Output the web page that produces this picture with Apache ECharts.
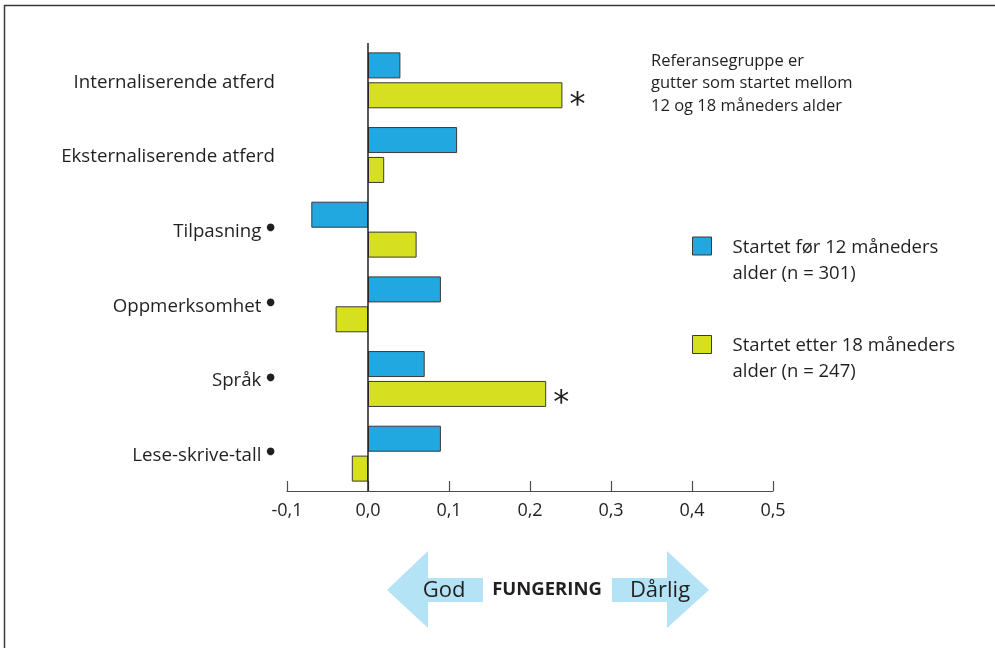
<!DOCTYPE html>
<html><head><meta charset="utf-8">
<script src="https://cdn.jsdelivr.net/npm/echarts@6/dist/echarts.min.js"></script>
<style>html,body{margin:0;padding:0;background:#fff}#c{width:995px;height:648px}</style>
</head><body><div id="c"></div>
<script>
var categories = ['Internaliserende atferd','Eksternaliserende atferd','Tilpasning','Oppmerksomhet','Språk','Lese-skrive-tall'];
var bulletMarked = [false, false, true, true, true, true];
var seriesNames = ['Startet før 12 måneders\nalder (n = 301)', 'Startet etter 18 måneders\nalder (n = 247)'];
var before12 = [0.04, 0.11, -0.07, 0.09, 0.07, 0.09];
var after18 = [0.24, 0.02, 0.06, -0.04, 0.22, -0.02];
var after18Significant = [true, false, false, false, true, false];
var xTicks = [-0.1, 0.0, 0.1, 0.2, 0.3, 0.4, 0.5];
var noteLines = ['Referansegruppe er', 'gutter som startet mellom', '12 og 18 måneders alder'];

var FONT = 'Open Sans';
var chart = echarts.init(document.getElementById('c'), null, {renderer: 'canvas'});

var yellowData = after18.map(function (v, i) {
  return after18Significant[i]
    ? {value: v, label: {show: true, position: 'right', distance: 7, formatter: '*', fontSize: 32, fontFamily: 'DejaVu Sans', color: '#231f20', offset: [0, 10]}}
    : v;
});

chart.setOption({
  animation: false,
  textStyle: {fontFamily: FONT},
  grid: {left: 287, right: 222, top: 43, bottom: 157},
  title: {
    text: noteLines.join('\n'), left: 651, top: 50, padding: 0,
    textStyle: {fontFamily: FONT, fontSize: 16.5, fontWeight: 'normal', color: '#231f20', lineHeight: 22.5}
  },
  legend: {
    orient: 'vertical', left: 692, top: 219.5, itemWidth: 19, itemHeight: 18, itemGap: 35,
    padding: 0, icon: 'rect',
    itemStyle: {borderColor: '#3a3a3a', borderWidth: 1},
    formatter: function (name) {
      var parts = name.split('\n');
      return '{s| }\n{t|' + parts[0] + '}\n{t|' + parts[1] + '}';
    },
    textStyle: {
      fontFamily: FONT, fontSize: 18.5, color: '#231f20', padding: [0, 0, 0, 16],
      rich: {
        s: {fontSize: 1, lineHeight: 29},
        t: {fontFamily: FONT, fontSize: 18.5, lineHeight: 26, color: '#231f20'}
      }
    },
    data: seriesNames
  },
  xAxis: {
    type: 'value', min: -0.1, max: 0.5, interval: 0.1,
    axisLine: {show: true, lineStyle: {color: '#4d4d4d', width: 1.2}},
    axisTick: {show: true, inside: true, length: 10, lineStyle: {color: '#4d4d4d', width: 1.2}},
    splitLine: {show: false},
    axisLabel: {
      margin: 11, fontSize: 18, color: '#231f20', fontFamily: FONT,
      formatter: function (v) { return (Math.round(v * 10) / 10).toFixed(1).replace('.', ','); }
    }
  },
  yAxis: {
    type: 'category', data: categories, inverse: true,
    axisLine: {show: false}, axisTick: {show: false},
    axisLabel: {
      margin: 12, fontSize: 18.7, color: '#231f20', fontFamily: FONT, padding: [4, 0, 0, 0],
      formatter: function (v, i) { return bulletMarked[i] ? v + ' {d|●}' : v; },
      rich: {d: {fontSize: 10, color: '#231f20', padding: [0, 0, 8, 0], fontFamily: 'DejaVu Sans'}}
    }
  },
  series: [
    {
      name: seriesNames[0], type: 'bar', data: before12, barWidth: 26, barGap: '15%',
      itemStyle: {color: '#22a8e0', borderColor: '#3a3a3a', borderWidth: 1},
      markLine: {
        silent: true, symbol: 'none', label: {show: false},
        lineStyle: {color: '#231f20', width: 1.5, type: 'solid'},
        data: [{xAxis: 0}]
      }
    },
    {
      name: seriesNames[1], type: 'bar', data: yellowData, barWidth: 26,
      itemStyle: {color: '#d7df21', borderColor: '#3a3a3a', borderWidth: 1}
    }
  ],
  graphic: [
    {type: 'polyline', shape: {points: [[4.5, 648], [4.5, 5.5], [995, 5.5]]}, style: {stroke: '#3a3a3a', lineWidth: 1.5, fill: null}},
    {type: 'polygon', shape: {points: [[387, 590], [428, 551], [428, 578], [483, 578], [483, 602], [428, 602], [428, 628]]}, style: {fill: '#b3e3f5'}},
    {type: 'polygon', shape: {points: [[709, 590], [667, 551], [667, 578], [612, 578], [612, 602], [667, 602], [667, 628]]}, style: {fill: '#b3e3f5'}},
    {type: 'text', x: 444, y: 591, style: {text: 'God', fontFamily: FONT, fontSize: 22, fill: '#231f20', textAlign: 'center', textVerticalAlign: 'middle'}},
    {type: 'text', x: 547, y: 590, style: {text: 'FUNGERING', fontFamily: FONT, fontSize: 18.5, fontWeight: 'bold', fill: '#231f20', textAlign: 'center', textVerticalAlign: 'middle'}},
    {type: 'text', x: 660, y: 591, style: {text: 'Dårlig', fontFamily: FONT, fontSize: 22, fill: '#231f20', textAlign: 'center', textVerticalAlign: 'middle'}}
  ]
});
</script></body></html>
